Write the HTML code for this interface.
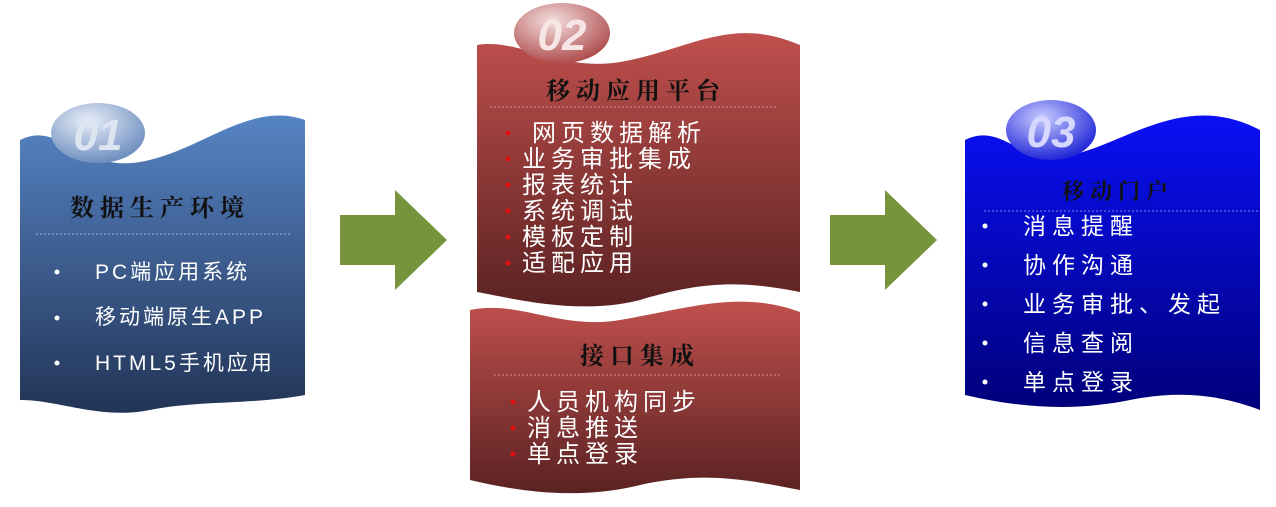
<!DOCTYPE html>
<html><head><meta charset="utf-8"><style>
html,body{margin:0;padding:0;background:#fff;}
svg{display:block;font-family:"Liberation Sans","Noto Sans CJK SC",sans-serif;}
.t{font-family:"Noto Serif CJK SC","Liberation Serif",serif;font-weight:bold;fill:#111;letter-spacing:6px;}
.w{fill:#fff;}
</style></head><body>
<svg width="1276" height="507" viewBox="0 0 1276 507">
<defs>
<linearGradient id="gb" x1="0" y1="0" x2="0" y2="1"><stop offset="0" stop-color="#5684c4"/><stop offset="1" stop-color="#223456"/></linearGradient>
<linearGradient id="gr" x1="0" y1="0" x2="0" y2="1"><stop offset="0" stop-color="#c0504d"/><stop offset="1" stop-color="#5a2222"/></linearGradient>
<linearGradient id="gd" x1="0" y1="0" x2="0" y2="1"><stop offset="0" stop-color="#0a10f5"/><stop offset="1" stop-color="#00007a"/></linearGradient>
<radialGradient id="bb" cx="0.4" cy="0.3" r="0.7"><stop offset="0" stop-color="#e8eef8"/><stop offset="1" stop-color="#6f8fc0"/></radialGradient>
<radialGradient id="br" cx="0.4" cy="0.3" r="0.7"><stop offset="0" stop-color="#f4dede"/><stop offset="1" stop-color="#b05050"/></radialGradient>
<radialGradient id="bd" cx="0.4" cy="0.3" r="0.7"><stop offset="0" stop-color="#c8ccff"/><stop offset="1" stop-color="#2228d8"/></radialGradient>
</defs>
<!-- left blue -->
<path d="M20,140 C60,120 80,172 140,162 C200,152 250,100 305,120 L305,395 C250,405 200,400 150,410 C100,420 60,400 20,400 Z" fill="url(#gb)"/>
<ellipse cx="98" cy="133" rx="47" ry="30" fill="url(#bb)"/>
<text x="98" y="150" text-anchor="middle" font-size="44" font-weight="bold" font-style="italic" fill="#dde5f0">01</text>
<text x="70" y="216" font-size="24" class="t">数据生产环境</text>
<line x1="36" y1="234" x2="290" y2="234" stroke="#9fb3d0" stroke-dasharray="2,2"/>
<g font-size="21" class="w" letter-spacing="3"><circle cx="57" cy="272" r="2.5"/><circle cx="57" cy="318" r="2.5"/><circle cx="57" cy="363" r="2.5"/>
<text x="95" y="279">PC端应用系统</text><text x="95" y="324">移动端原生APP</text><text x="95" y="370">HTML5手机应用</text></g>
<!-- arrows -->
<polygon points="340,215 395,215 395,190 447,240 395,290 395,265 340,265" fill="#77933c"/>
<polygon points="830,215 885,215 885,190 937,240 885,290 885,265 830,265" fill="#77933c"/>
<!-- red top -->
<path d="M477,45 C520,38 560,72 620,62 C690,50 730,15 800,45 L800,292 C740,280 700,282 640,300 C580,315 520,300 477,292 Z" fill="url(#gr)"/>
<ellipse cx="562" cy="33" rx="48" ry="30" fill="url(#br)"/>
<text x="562" y="50" text-anchor="middle" font-size="44" font-weight="bold" font-style="italic" fill="#f6e6e6">02</text>
<text x="546" y="99" font-size="24" class="t">移动应用平台</text>
<line x1="490" y1="107" x2="778" y2="107" stroke="#d89090" stroke-dasharray="2,2"/>
<g font-size="24" class="w" letter-spacing="5">
<text x="532" y="141">网页数据解析</text><text x="522" y="167">业务审批集成</text><text x="522" y="193">报表统计</text><text x="522" y="219">系统调试</text><text x="522" y="245">模板定制</text><text x="522" y="271">适配应用</text></g>
<g fill="#e01010"><circle cx="508" cy="133" r="2.5"/><circle cx="508" cy="159" r="2.5"/><circle cx="508" cy="185" r="2.5"/><circle cx="508" cy="211" r="2.5"/><circle cx="508" cy="237" r="2.5"/><circle cx="508" cy="263" r="2.5"/></g>
<!-- red bottom -->
<path d="M470,310 C520,300 560,330 620,320 C690,308 740,290 800,312 L800,490 C740,478 700,472 640,485 C580,500 520,492 470,480 Z" fill="url(#gr)"/>
<text x="580" y="364" font-size="24" class="t">接口集成</text>
<line x1="494" y1="375" x2="782" y2="375" stroke="#d89090" stroke-dasharray="2,2"/>
<g font-size="24" class="w" letter-spacing="5"><text x="527" y="410">人员机构同步</text><text x="527" y="436">消息推送</text><text x="527" y="462">单点登录</text></g>
<g fill="#e01010"><circle cx="513" cy="402" r="2.5"/><circle cx="513" cy="428" r="2.5"/><circle cx="513" cy="454" r="2.5"/></g>
<!-- right blue -->
<path d="M965,140 C1000,122 1020,162 1060,157 C1120,150 1180,88 1260,130 L1260,410 C1220,395 1180,390 1130,400 C1080,410 1030,410 965,395 Z" fill="url(#gd)"/>
<ellipse cx="1051" cy="130" rx="45" ry="30" fill="url(#bd)"/>
<text x="1051" y="147" text-anchor="middle" font-size="44" font-weight="bold" font-style="italic" fill="#d6d8ff">03</text>
<text x="1062" y="199" font-size="22" class="t" letter-spacing="0">移动门户</text>
<line x1="984" y1="211" x2="1260" y2="211" stroke="#7f86e8" stroke-dasharray="2,2"/>
<g font-size="23" class="w" letter-spacing="6">
<circle cx="985" cy="226" r="2.5"/><circle cx="985" cy="265" r="2.5"/><circle cx="985" cy="304" r="2.5"/><circle cx="985" cy="343" r="2.5"/><circle cx="985" cy="382" r="2.5"/>
<text x="1023" y="234">消息提醒</text><text x="1023" y="273">协作沟通</text><text x="1023" y="312">业务审批、发起</text><text x="1023" y="351">信息查阅</text><text x="1023" y="390">单点登录</text></g>
</svg>
</body></html>
